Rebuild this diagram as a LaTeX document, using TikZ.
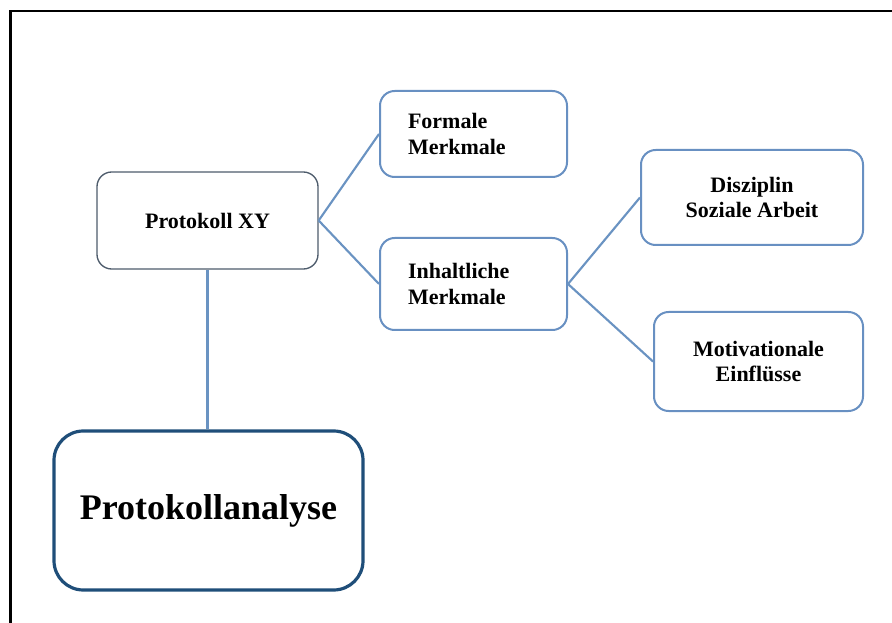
\documentclass[tikz,border=0pt]{standalone}
\usepackage{fontspec}
\setmainfont{Liberation Serif}
\definecolor{boxblue}{HTML}{6890C2}
\definecolor{darkblue}{HTML}{1F4E79}
\definecolor{greyblue}{HTML}{4E5C6C}
\definecolor{linkblue}{HTML}{6A93C2}
\tikzset{
  box/.style={draw=boxblue, line width=1.5pt, rounded corners=11pt, fill=white, font=\fontsize{16.5}{19}\selectfont\bfseries},
  link/.style={draw=linkblue, line width=1.6pt},
}
\begin{document}
\begin{tikzpicture}[x=0.75pt,y=-0.75pt]
\useasboundingbox (0,0) rectangle (892,623);
\draw[line width=2pt] (10.5,623) -- (10.5,11) -- (892,11);
\node[box, draw=greyblue, line width=1pt, minimum width=165.75pt, minimum height=72.75pt] (pxy) at (207.5,220.5) {Protokoll XY};
\node[box, minimum width=140.25pt, minimum height=64.5pt, inner xsep=21pt, text width=98.25pt, align=left] (fm) at (473.5,134) {Formale\\Merkmale};
\node[box, minimum width=140.25pt, minimum height=69pt, inner xsep=21pt, text width=98.25pt, align=left] (im) at (473.5,284) {Inhaltliche\\Merkmale};
\node[box, minimum width=166.5pt, minimum height=71.25pt, align=center] (ds) at (752,197.5) {Disziplin\\Soziale Arbeit};
\node[box, minimum width=156.75pt, minimum height=74.25pt, align=center] (me) at (758.5,361.5) {Motivationale\\Einflüsse};
\node[box, draw=darkblue, line width=2.4pt, rounded corners=22pt, minimum width=231.75pt, minimum height=119.25pt, font=\fontsize{27}{31}\selectfont\bfseries] (pa) at (208.5,510.5) {Protokollanalyse};
\draw[link] (pxy.east) -- (fm.west);
\draw[link] (pxy.east) -- (im.west);
\draw[link] (im.east) -- (ds.west);
\draw[link] (im.east) -- (me.west);
\draw[link] (pxy.south) -- (pxy.south |- pa.north);
\end{tikzpicture}
\end{document}
